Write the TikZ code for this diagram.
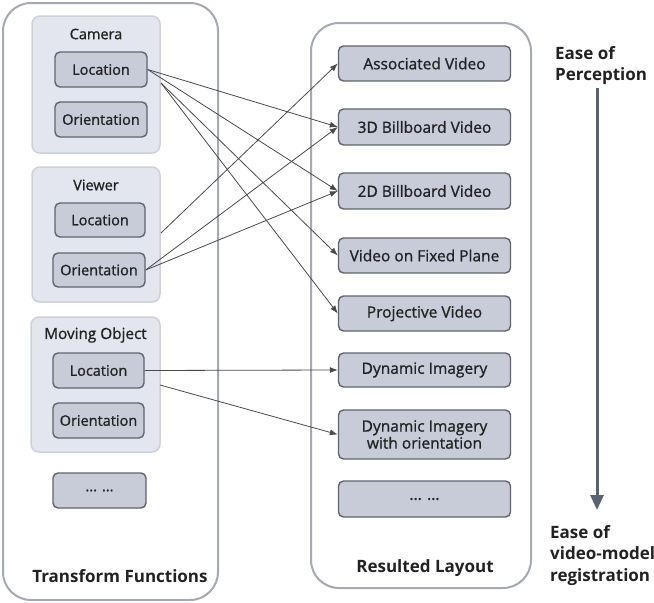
\documentclass[tikz,border=0pt]{standalone}
\usepackage{fontspec}
\setmainfont{Open Sans}
\newfontfamily\boxfont{Open Sans}[FakeBold=1.0]
\usetikzlibrary{arrows.meta}
\definecolor{boxfill}{HTML}{C8CCD9}
\definecolor{boxline}{HTML}{60646E}
\definecolor{grpfill}{HTML}{E3E6EE}
\definecolor{grpline}{HTML}{CDD1DA}
\definecolor{contline}{HTML}{A5A9B2}
\definecolor{txt}{HTML}{222222}
\definecolor{bigarrow}{HTML}{5B6271}
\definecolor{conn}{HTML}{4A4A4A}
\begin{document}
\begin{tikzpicture}[x=1pt,y=-1pt,
  container/.style={draw=contline, line width=2pt, fill=white, rounded corners=28pt, inner sep=0pt},
  group/.style={draw=grpline, line width=1.5pt, fill=grpfill, rounded corners=8pt, inner sep=0pt},
  item/.style={draw=boxline, line width=1.4pt, fill=boxfill, rounded corners=5pt, inner sep=0pt,
    text=txt, font=\boxfont\fontsize{14.5}{17}\selectfont, align=center},
  ritem/.style={item, font=\boxfont\fontsize{15.5}{18}\selectfont},
  glabel/.style={text=txt, font=\boxfont\fontsize{14.5}{17}\selectfont, inner sep=0pt},
  heading/.style={text=txt, font=\bfseries\fontsize{17}{21}\selectfont, inner sep=0pt},
  side/.style={text=txt, font=\bfseries\fontsize{17}{21.5}\selectfont, inner sep=0pt, align=left},
  conn/.style={draw=conn, line width=0.8pt, -{Latex[length=8pt,width=6pt]}}
]
\useasboundingbox (0,0) rectangle (654,603);
% containers
\node[container, minimum width=215pt, minimum height=597pt] (left) at (110.5,301.5) {};
\node[container, minimum width=220pt, minimum height=565pt] (right) at (421,305.5) {};
% groups
\node[group, minimum width=128pt, minimum height=137pt] (gcam) at (96,84.5) {};
\node[group, minimum width=128pt, minimum height=135pt] (gview) at (96,234.5) {};
\node[group, minimum width=129pt, minimum height=135pt] (gmo) at (95.5,384.5) {};
\node[glabel] (lcam) at (96,34) {Camera};
\node[glabel] (lview) at (96,185) {Viewer};
\node[glabel, font=\boxfont\fontsize{15.3}{17}\selectfont] (lmo) at (95.5,335) {Moving Object};
% left items
\node[item, minimum width=92pt, minimum height=35pt] (camloc) at (101,69.5) {Location};
\node[item, minimum width=92pt, minimum height=35pt] (camori) at (101,119.5) {Orientation};
\node[item, minimum width=90pt, minimum height=34pt] (viewloc) at (100,220) {Location};
\node[item, minimum width=92pt, minimum height=34pt] (viewori) at (99,270) {Orientation};
\node[item, minimum width=91pt, minimum height=35pt] (moloc) at (98.5,370.5) {Location};
\node[item, minimum width=91pt, minimum height=35pt] (moori) at (98.5,420.5) {Orientation};
\node[item, minimum width=93pt, minimum height=35pt] (ldots) at (99.5,490.5) {... ...};
% right items
\node[ritem, minimum width=172pt, minimum height=35pt] (assoc) at (424.5,63.5) {Associated Video};
\node[ritem, minimum width=172pt, minimum height=36pt] (bbthree) at (424.5,127) {3D Billboard Video};
\node[ritem, minimum width=172pt, minimum height=36pt] (bbtwo) at (424.5,191) {2D Billboard Video};
\node[ritem, minimum width=172pt, minimum height=35pt] (fixed) at (424.5,255.5) {Video on Fixed Plane};
\node[ritem, minimum width=172pt, minimum height=35pt] (proj) at (424.5,313.5) {Projective Video};
\node[ritem, minimum width=172pt, minimum height=34pt] (dyn) at (424.5,370) {Dynamic Imagery};
\node[ritem, minimum width=172pt, minimum height=49pt] (dynori) at (424.5,434.5) {Dynamic Imagery\\[-1pt]with orientation};
\node[ritem, minimum width=172pt, minimum height=36pt] (rdots) at (424.5,499) {... ...};
% headings
\node[heading] (tf) at (120,576) {Transform Functions};
\node[heading] (rl) at (425,568) {Resulted Layout};
\node[side, anchor=north west] (eop) at (555,46) {Ease of\\Perception};
\node[side, anchor=north west] (eov) at (550,525) {Ease of\\video-model\\registration};
% big arrow
\coordinate (atop) at (597,88);
\coordinate (abot) at (597,510);
\draw[draw=bigarrow, line width=3pt, -{Triangle[length=15pt,width=13pt]}, fill=bigarrow] (atop) -- (abot);
% connector taps
\coordinate (camtap) at (161,83);
\coordinate (viewtap) at (161,233);
\coordinate (motap) at (160,385);
% connectors
\draw[conn] (camloc.east) -- (bbthree.west);
\draw[conn] (camloc.east) -- (bbtwo.west);
\draw[conn] (camtap) -- (fixed.west);
\draw[conn] (camtap) -- (proj.west);
\draw[conn] (viewtap) -- (assoc.west);
\draw[conn] (viewori.east) -- (bbthree.west);
\draw[conn] (viewori.east) -- (bbtwo.west);
\draw[conn] (moloc.east) -- (dyn.west);
\draw[conn] (motap) -- (dynori.west);
\end{tikzpicture}
\end{document}
